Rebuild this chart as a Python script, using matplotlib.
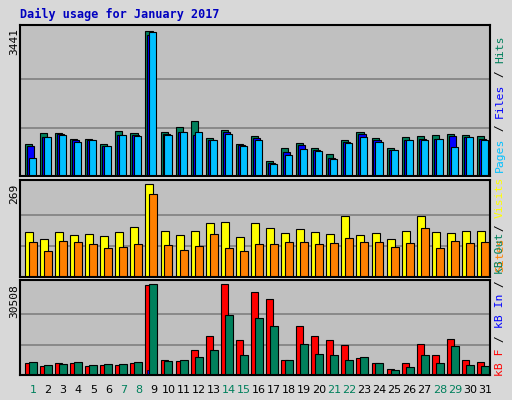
import matplotlib
matplotlib.use("Agg")
import matplotlib.pyplot as plt
import numpy as np

days = list(range(1, 32))
day_labels = [str(d) for d in days]
weekend = [1, 7, 8, 14, 15, 21, 22, 28, 29]

hits = [766,1024,1024,884,884,766,1071,1024,3441,1048,1165,1306,907,1095,766,954,
        344,673,790,673,532,860,1048,907,673,930,954,977,1000,977,954]
files = [720,930,1000,860,860,720,977,977,3347,1000,1048,977,860,1048,743,907,
         297,579,743,626,438,813,1000,860,626,860,884,884,954,930,884]
pages = [438,930,977,813,860,720,977,954,3417,977,1048,1048,860,1000,720,860,
         274,508,649,602,414,790,930,813,626,860,860,884,696,930,860]

visits = [131,111,131,122,125,119,131,143,269,134,122,134,157,160,116,157,
          140,128,137,131,125,175,122,128,111,134,175,131,128,134,134]
sites = [102,75,105,102,96,84,87,96,240,93,78,90,125,84,75,96,
         96,102,102,96,99,113,102,102,87,99,140,84,105,99,102]

kb_f = [3926,3029,3926,3926,3029,3365,3365,3926,30181,4936,4600,8302,13015,30508,11668,27825,
        25469,4936,16381,13015,11668,9986,5610,3926,1907,3926,10322,6619,12005,4936,4263]
kb_in = [0,0,0,0,0,0,0,0,1683,0,0,0,0,0,0,0,0,0,0,0,0,0,0,0,0,0,0,0,0,0,0]
kb_out = [4263,3365,3702,4263,3365,3702,3702,4263,30508,4600,4936,5946,8302,20083,6619,19074,
          16381,4936,10322,6956,6619,4936,5946,3926,1571,2580,6619,3926,9649,3253,2916]

GREEN = "#00805C"; BLUE = "#0000FF"; CYAN = "#00C0FF"
YEL = "#FFFF00"; ORA = "#FF8000"; RED = "#FF0000"
PLOTBG = "#C0C0C0"

fig = plt.figure(figsize=(5.12, 4.0), dpi=100, facecolor="#D8D8D8")
mono = "DejaVu Sans Mono"
x = np.array(days, dtype=float)
W = 0.47

def setup(ax, top):
    ax.set_facecolor(PLOTBG)
    ax.set_xlim(0.14, 31.33)
    ax.set_ylim(0, top * 1.04)
    for f in (1/3, 2/3):
        ax.axhline(top * f, color="#808080", lw=1.2, zorder=0)
    ax.set_xticks([]); ax.set_yticks([])
    for s in ax.spines.values():
        s.set_linewidth(1.5); s.set_color("black")

ax1 = fig.add_axes([0.039, 0.56, 0.918, 0.3775])
setup(ax1, max(hits))
ax1.bar(x - 0.53, hits, W, align="edge", color=GREEN, edgecolor="black", lw=0.8)
ax1.bar(x - 0.40, files, W, align="edge", color=BLUE, edgecolor="black", lw=0.8)
ax1.bar(x - 0.27, pages, W, align="edge", color=CYAN, edgecolor="black", lw=0.8)

ax2 = fig.add_axes([0.039, 0.3075, 0.918, 0.2425])
setup(ax2, max(visits))
ax2.bar(x - 0.53, visits, 0.53, align="edge", color=YEL, edgecolor="black", lw=0.8)
ax2.bar(x - 0.27, sites, 0.53, align="edge", color=ORA, edgecolor="black", lw=0.8)

ax3 = fig.add_axes([0.039, 0.0625, 0.918, 0.2375])
setup(ax3, max(kb_out))
ax3.bar(x - 0.53, kb_f, W, align="edge", color=RED, edgecolor="black", lw=0.8)
ax3.bar(x - 0.40, kb_in, 0.2, align="edge", color=BLUE, edgecolor="black", lw=0.5)
ax3.bar(x - 0.27, kb_out, 0.53, align="edge", color=GREEN, edgecolor="black", lw=0.8)

for d, lab in zip(days, day_labels):
    ax3.text(d, -0.16, lab, transform=ax3.get_xaxis_transform(), ha="center", va="center",
             fontsize=8, family="DejaVu Sans",
             color=GREEN if d in weekend else "black")

fig.text(20 / 512, 1 - 14 / 400, "Daily usage for January 2017", color="#0000C0",
         fontsize=8.5, fontweight="bold", family=mono, ha="left", va="center")

for val, ytop in ((max(hits), 28), (max(visits), 184), (max(kb_out), 284)):
    fig.text(14 / 512, 1 - ytop / 400, str(val), rotation=90, ha="center", va="top",
             fontsize=8, family=mono)

def side_label(parts, ybottom_px):
    charpx = 6.8
    y = ybottom_px
    for t, c in parts:
        fig.text(500 / 512, 1 - y / 400, t, rotation=90, color=c, fontsize=8.2,
                 family=mono, ha="center", va="bottom")
        y -= charpx * len(t)

side_label([("Pages", CYAN), (" / ", "black"), ("Files", BLUE), (" / ", "black"), ("Hits", GREEN)], 172)
side_label([("Sites", ORA), (" / ", "black"), ("Visits", YEL)], 272)
side_label([("kB F", RED), (" / ", "black"), ("kB In", BLUE), (" / ", "black"), ("kB Out", GREEN)], 376)

fig.savefig("out.png", dpi=100, facecolor=fig.get_facecolor())
